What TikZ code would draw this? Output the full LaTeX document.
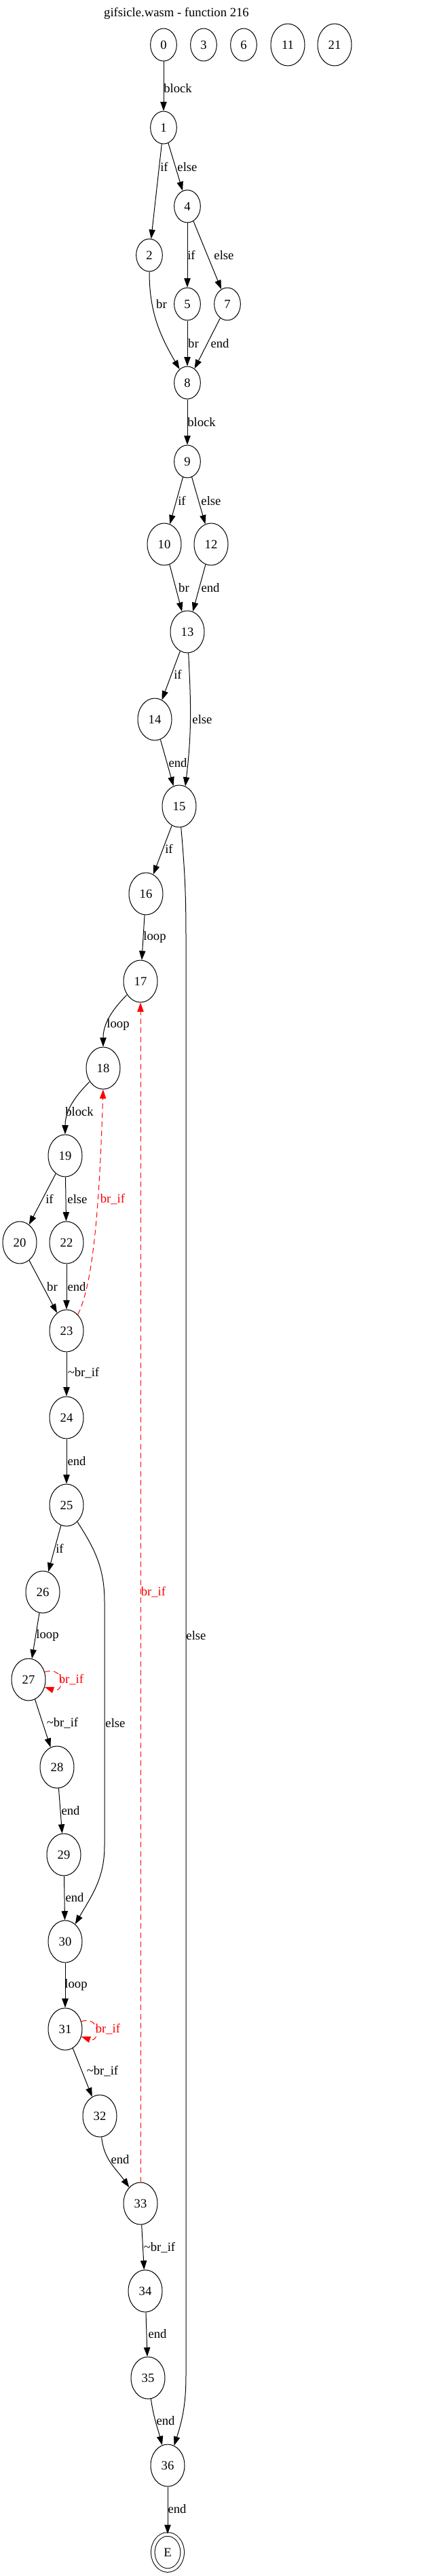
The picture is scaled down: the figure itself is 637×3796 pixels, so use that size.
\documentclass[tikz,border=0pt]{standalone}
\usepackage{fontspec}
\setmainfont{Liberation Serif}
\usepackage{tikz}
\usetikzlibrary{shapes,arrows.meta,positioning}

\begin{document}
\begin{tikzpicture}[x=0.75pt, y=-0.75pt, font=\fontsize{14}{16}\selectfont, line width=0.75pt, >={Triangle[length=10pt, width=7pt]}]
			\tikzstyle{Block}	= [ellipse, draw, fill=white, minimum width=29pt, minimum height=36pt, inner sep=0pt]
			\tikzstyle{BlockW}	= [Block, minimum width=37.5pt, minimum height=46.5pt]
			\tikzstyle{Exit}	= [ellipse, draw, double, double distance=3.4pt, fill=white, minimum width=32.6pt, minimum height=39.8pt, inner sep=0pt]
			\tikzstyle{Lbl}		= [inner sep=0pt]
			\tikzstyle{Back}	= [red, dashed, dash pattern=on 6pt off 4pt]
			\tikzstyle{BackLbl}	= [Lbl, text=red]

			\useasboundingbox (0, 0) rectangle (637, 3796);
			\node (title) at (260, 20) {gifsicle.wasm - function 216};

			% blocks
			\node (n0) at (241, 66) [Block] {0};
			\node (n3) at (300, 66) [Block] {3};
			\node (n6) at (359, 66) [Block] {6};
			\node (n11) at (424, 66) [BlockW] {11};
			\node (n21) at (493, 66) [BlockW] {21};
			\node (n1) at (241, 188) [Block] {1};
			\node (n4) at (276, 304) [Block] {4};
			\node (n2) at (220, 376) [Block] {2};
			\node (n5) at (276, 448) [Block] {5};
			\node (n7) at (335, 448) [Block] {7};
			\node (n8) at (276, 564) [Block] {8};
			\node (n9) at (276, 680) [Block] {9};
			\node (n10) at (242, 802) [BlockW] {10};
			\node (n12) at (311, 802) [BlockW] {12};
			\node (n13) at (276, 931) [BlockW] {13};
			\node (n14) at (228, 1060) [BlockW] {14};
			\node (n15) at (264, 1188) [BlockW] {15};
			\node (n16) at (215, 1317) [BlockW] {16};
			\node (n17) at (207, 1446) [BlockW] {17};
			\node (n18) at (152, 1574) [BlockW] {18};
			\node (n19) at (96, 1703) [BlockW] {19};
			\node (n20) at (29, 1831) [BlockW] {20};
			\node (n22) at (98, 1831) [BlockW] {22};
			\node (n23) at (98, 1961) [BlockW] {23};
			\node (n24) at (98, 2089) [BlockW] {24};
			\node (n25) at (98, 2218) [BlockW] {25};
			\node (n26) at (63, 2346) [BlockW] {26};
			\node (n27) at (42, 2475) [BlockW] {27};
			\node (n28) at (84, 2604) [BlockW] {28};
			\node (n29) at (94, 2733) [BlockW] {29};
			\node (n30) at (96, 2861) [BlockW] {30};
			\node (n31) at (96, 2990) [BlockW] {31};
			\node (n32) at (147, 3118) [BlockW] {32};
			\node (n33) at (207, 3247) [BlockW] {33};
			\node (n34) at (214, 3376) [BlockW] {34};
			\node (n35) at (218, 3504) [BlockW] {35};
			\node (n36) at (247, 3633) [BlockW] {36};
			\node (nE) at (247, 3761) [Exit] {E};

			\coordinate (c15a) at (274, 1380);
			\coordinate (c15b) at (274, 3500);
			\coordinate (c25a) at (154, 2360);
			\coordinate (c25b) at (154, 2720);

			% forward edges
			\draw [->] (n0) to (n1) node [Lbl] at (262, 130) {block};
			\draw [->] (n1) to (n2) node [Lbl] at (242, 246) {if};
			\draw [->] (n1) to (n4) node [Lbl] at (276, 246) {else};
			\draw [->] (n4) to (n5) node [Lbl] at (282, 376) {if};
			\draw [->] (n4) to (n7) node [Lbl] at (330, 376) {else};
			\draw [->] (n2) to [out=-90, in=120] (n8) node [Lbl] at (238, 448) {br};
			\draw [->] (n5) to (n8) node [Lbl] at (285, 506) {br};
			\draw [->] (n7) to (n8) node [Lbl] at (324, 506) {end};
			\draw [->] (n8) to (n9) node [Lbl] at (297, 622) {block};
			\draw [->] (n9) to (n10) node [Lbl] at (268, 738) {if};
			\draw [->] (n9) to (n12) node [Lbl] at (311, 738) {else};
			\draw [->] (n10) to (n13) node [Lbl] at (271, 866) {br};
			\draw [->] (n12) to (n13) node [Lbl] at (310, 866) {end};
			\draw [->] (n13) to (n14) node [Lbl] at (262, 994) {if};
			\draw [->] (n13.-87) to [out=-87, in=83] (n15.73) node [Lbl] at (298, 1060) {else};
			\draw [->] (n14) to (n15) node [Lbl] at (262, 1124) {end};
			\draw [->] (n15) to (n16) node [Lbl] at (249, 1251) {if};
			\draw [->] (n15) to [out=-85, in=90] (c15a) -- (c15b) to [out=-90, in=72] (n36) node [Lbl] at (289, 2410) {else};
			\draw [->] (n16) to (n17) node [Lbl] at (228, 1381) {loop};
			\draw [->] (n17) to [out=-135, in=90] (n18) node [Lbl] at (174, 1510) {loop};
			\draw [->] (n18) to [out=-135, in=90] (n19) node [Lbl] at (117, 1638) {block};
			\draw [->] (n19) to (n20) node [Lbl] at (73, 1767) {if};
			\draw [->] (n19) to (n22) node [Lbl] at (114, 1767) {else};
			\draw [->] (n20) to (n23) node [Lbl] at (77, 1896) {br};
			\draw [->] (n22) to (n23) node [Lbl] at (113, 1896) {end};
			\draw [->] (n23) to (n24) node [Lbl] at (123, 2023) {\textasciitilde br\_if};
			\draw [->] (n24) to (n25) node [Lbl] at (113, 2153) {end};
			\draw [->] (n25) to (n26) node [Lbl] at (88, 2282) {if};
			\draw [->] (n25) to [out=-57, in=90] (c25a) -- (c25b) to [out=-90, in=60] (n30) node [Lbl] at (170, 2539) {else};
			\draw [->] (n26) to (n27) node [Lbl] at (70, 2410) {loop};
			\draw [->] (n27) to (n28) node [Lbl] at (92, 2539) {\textasciitilde br\_if};
			\draw [->] (n28) to (n29) node [Lbl] at (104, 2668) {end};
			\draw [->] (n29) to (n30) node [Lbl] at (110, 2796) {end};
			\draw [->] (n30) to (n31) node [Lbl] at (112, 2925) {loop};
			\draw [->] (n31) to (n32) node [Lbl] at (151, 3052) {\textasciitilde br\_if};
			\draw [->] (n32) to [out=-85, in=125] (n33) node [Lbl] at (177, 3182) {end};
			\draw [->] (n33) to (n34) node [Lbl] at (235, 3312) {\textasciitilde br\_if};
			\draw [->] (n34) to (n35) node [Lbl] at (232, 3439) {end};
			\draw [->] (n35) to [out=-82, in=105] (n36) node [Lbl] at (244, 3567) {end};
			\draw [->] (n36) to (nE) node [Lbl] at (261, 3697) {end};

			% back edges
			\draw [->] (n23.55) .. controls +(25, -50) and +(-5, 150) .. (n18.south) [Back] node [BackLbl] at (166, 1767) {br\_if};
			\draw [->] (n27.25) .. controls +(30, -10) and +(30, 10) .. (n27.-25) [Back] node [BackLbl] at (105, 2475) {br\_if};
			\draw [->] (n31.25) .. controls +(28, -10) and +(28, 10) .. (n31.-25) [Back] node [BackLbl] at (159, 2990) {br\_if};
			\draw [->] (n33) to (n17) [Back] node [BackLbl] at (226, 2346) {br\_if};
		\end{tikzpicture}
\end{document}
